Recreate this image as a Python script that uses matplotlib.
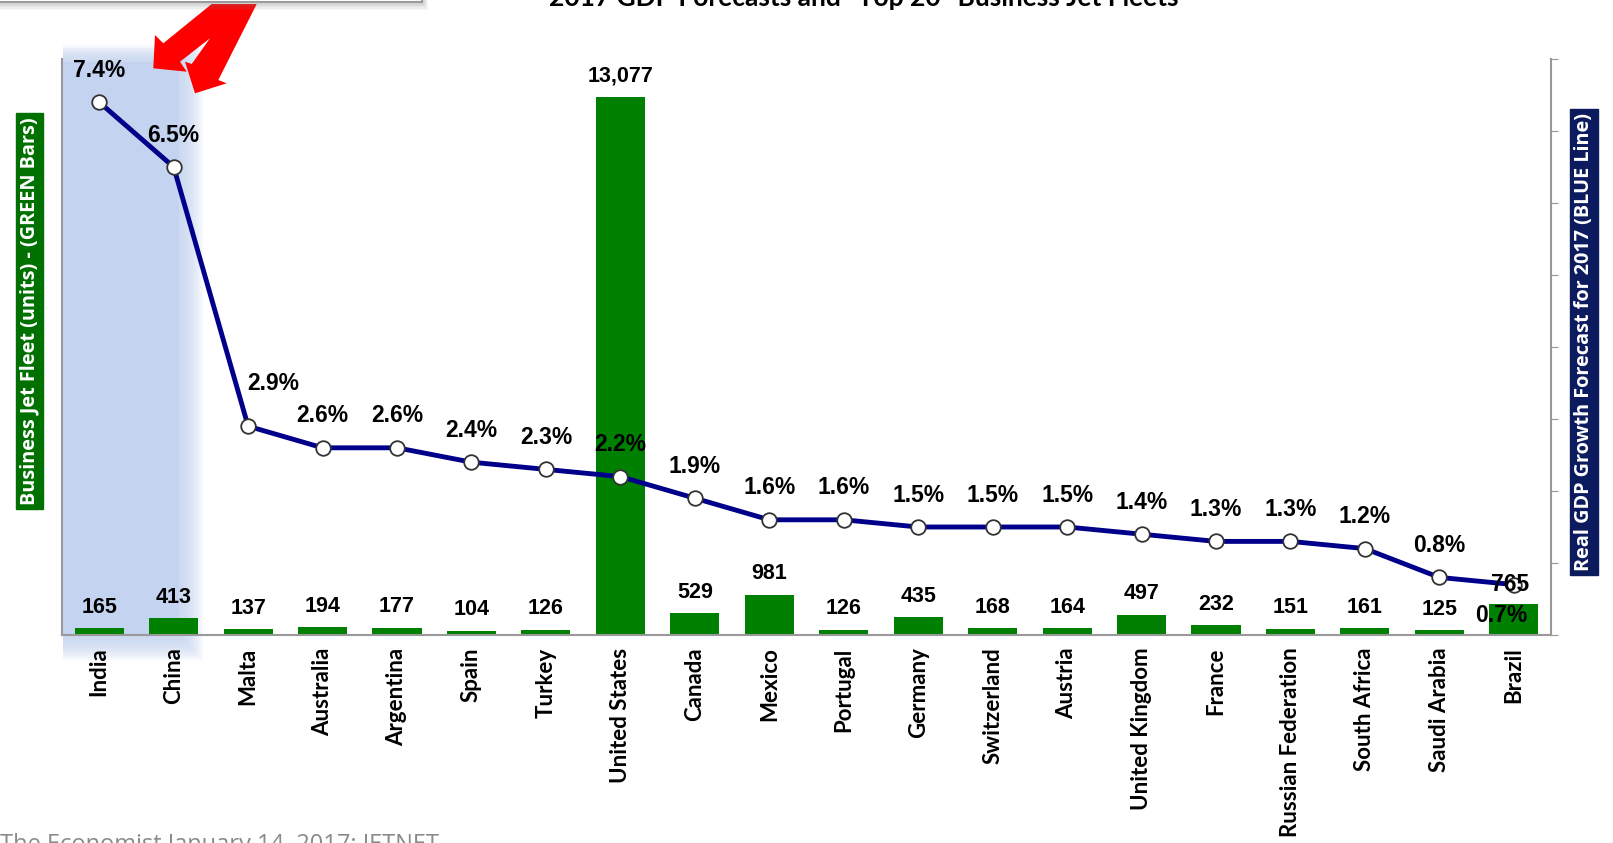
import matplotlib.pyplot as plt
from matplotlib.patches import Rectangle, Polygon

countries = ["India", "China", "Malta", "Australia", "Argentina", "Spain", "Turkey",
             "United States", "Canada", "Mexico", "Portugal", "Germany", "Switzerland",
             "Austria", "United Kingdom", "France", "Russian Federation", "South Africa",
             "Saudi Arabia", "Brazil"]
fleet = [165, 413, 137, 194, 177, 104, 126, 13077, 529, 981, 126, 435, 168, 164,
         497, 232, 151, 161, 125, 765]
gdp = [7.4, 6.5, 2.9, 2.6, 2.6, 2.4, 2.3, 2.2, 1.9, 1.6, 1.6, 1.5, 1.5, 1.5, 1.4,
       1.3, 1.3, 1.2, 0.8, 0.7]

W, H = 1613, 843
fig = plt.figure(figsize=(W / 100, H / 100), dpi=100)

# background layer in pixel coords (soft highlight band behind India/China)
bg = fig.add_axes([0, 0, 1, 1], zorder=0)
bg.set_xlim(0, W)
bg.set_ylim(H, 0)
bg.axis("off")
band = "#c3d3f0"
for i in range(12):
    g = 24 - i * 2
    bg.add_patch(Rectangle((63, 62 - g * 0.7), 116 + g, 574 + g * 1.7,
                           color=band, alpha=0.12, lw=0))
bg.add_patch(Rectangle((63, 62), 116, 574, color=band, lw=0))

L, R, T, B = 62, 1551, 59, 635
ax = fig.add_axes([L / W, 1 - B / H, (R - L) / W, (B - T) / H], zorder=1)
ax.patch.set_visible(False)
x = list(range(len(countries)))
ax.bar(x, fleet, width=0.66, color="#008000", zorder=2)
ax.set_xlim(-0.5, len(countries) - 0.5)
ax.set_ylim(0, 14000)
ax.set_yticks([])
ax.set_xticks(x)
ax.set_xticklabels(countries, rotation=90, fontsize=16, fontweight="bold", family="Lato")
ax.tick_params(axis="x", length=0, pad=9)
for s in ["top", "right"]:
    ax.spines[s].set_visible(False)
for s in ["left", "bottom"]:
    ax.spines[s].set_color("#999999")
    ax.spines[s].set_linewidth(1.5)

lab = dict(fontweight="bold", family="Liberation Sans", ha="center", va="center")
for i, v in enumerate(fleet):
    if countries[i] == "Brazil":
        continue
    ax.annotate(f"{v:,}", (i, v), xytext=(0, 15), textcoords="offset points",
                fontsize=15.5, zorder=4, **lab)

ax2 = ax.twinx()
ax2.set_ylim(0, 8)
ax2.set_yticks(range(9))
ax2.set_yticklabels([])
ax2.tick_params(axis="y", direction="out", length=5, color="#999999")
for s in ["top", "left", "bottom"]:
    ax2.spines[s].set_visible(False)
ax2.spines["right"].set_color("#999999")
ax2.spines["right"].set_linewidth(1.5)
ax2.plot(x, gdp, color="#00008b", lw=3.5, marker="o", ms=10.5, mfc="white", mec="#333333",
         mew=1.3, zorder=3)
for i, v in enumerate(gdp):
    if countries[i] == "Brazil":
        ax2.annotate(f"{fleet[i]:,}", (i, v), xytext=(-3, 0), textcoords="offset points",
                     fontsize=16.5, **lab)
        ax2.annotate(f"{v}%", (i, v), xytext=(-9, -22), textcoords="offset points",
                     fontsize=16.5, **lab)
        continue
    dx, dy = (18, 31) if countries[i] == "Malta" else (0, 23)
    ax2.annotate(f"{v}%", (i, v), xytext=(dx, dy), textcoords="offset points",
                 fontsize=16.5, **lab)

# axis title boxes
fig.text(29.5 / W, 1 - 311 / H, "Business Jet Fleet (units) - (GREEN Bars)", rotation=90,
         ha="center", va="center", color="white", fontsize=14.3, fontweight="bold",
         family="Open Sans",
         bbox=dict(boxstyle="square,pad=0.2", fc="#007000", ec="#007000"))
fig.text(1584 / W, 1 - 342 / H, "Real GDP Growth Forecast for 2017 (BLUE Line)", rotation=90,
         ha="center", va="center", color="white", fontsize=14.3, fontweight="bold",
         family="Open Sans",
         bbox=dict(boxstyle="square,pad=0.2", fc="#0c1a5e", ec="#0c1a5e"))

fig.text(864 / W, 1 - 6 / H, "2017 GDP Forecasts and \"Top 20\" Business Jet Fleets",
         ha="center", va="baseline", fontsize=19, fontweight="bold", family="Lato")
fig.text(0, 1 - 833 / H, "The Economist January 14, 2017; JETNET", ha="left", va="top",
         fontsize=17, color="#8a8a8a", family="Open Sans")

# overlay: cut-off callout box and red arrows
ov = fig.add_axes([0, 0, 1, 1], zorder=5)
ov.set_xlim(0, W)
ov.set_ylim(H, 0)
ov.axis("off")
ov.patch.set_visible(False)
ov.add_patch(Polygon([(211.7, 4), (256.7, 4), (218.3, 80), (226.7, 83.3), (195, 93.3),
                      (185, 61.7), (191.7, 64), (210, 38.3), (180, 61.7), (186.7, 71.7),
                      (153.3, 68.3), (155, 35), (163.3, 43.3)],
                     closed=True, color="#ff0000", lw=0))
for k in range(7):
    ov.add_patch(Rectangle((-10, -60), 432 + k, 62 + 1.3 * k, color="#808080", alpha=0.07, lw=0))
ov.add_patch(Rectangle((-10, -60), 432, 62, fc="white", ec="#9a9a9a", lw=1.5))

fig.savefig("out.png", dpi=100)
